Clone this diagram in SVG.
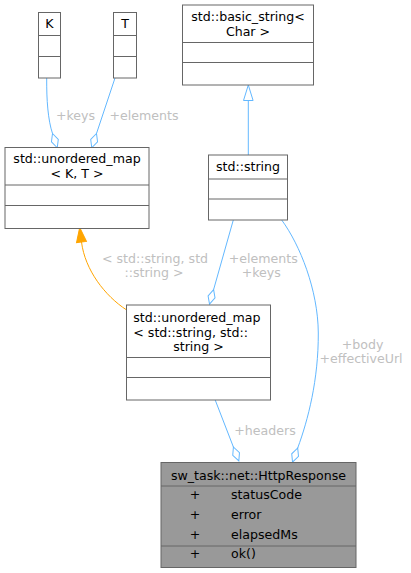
<svg xmlns="http://www.w3.org/2000/svg" width="411" height="573" viewBox="0 0 411 573">
<style>
text{font-family:"DejaVu Sans",sans-serif;font-size:12.6px;fill:#000}
.box{fill:#fff;stroke:#666;stroke-width:1}
.hl{fill:#999;stroke:#666;stroke-width:1}
.div{stroke:#666;stroke-width:1}
.e{fill:none;stroke:#63b8ff;stroke-width:1}
.o{fill:none;stroke:#ffa500;stroke-width:1}
.lbl{fill:#c0c0c0;text-anchor:middle}
.c{text-anchor:middle}
</style>
<defs>
<marker id="dia" markerUnits="userSpaceOnUse" orient="auto" overflow="visible" refX="0" refY="0" markerWidth="1" markerHeight="1">
<path d="M0,0 L7.5,-3.6 L15,0 L7.5,3.6 Z" fill="#fff" stroke="#63b8ff" stroke-width="1"/>
</marker>
<marker id="tri" markerUnits="userSpaceOnUse" orient="auto" overflow="visible" refX="0" refY="0" markerWidth="1" markerHeight="1">
<path d="M0,-4.8 L15.5,0 L0,4.8 Z" fill="#fff" stroke="#63b8ff" stroke-width="1"/>
</marker>
<marker id="otri" markerUnits="userSpaceOnUse" orient="auto" overflow="visible" refX="0" refY="0" markerWidth="1" markerHeight="1">
<path d="M0,-5 L14.5,0 L0,5 Z" fill="#ffa500" stroke="#ffa500" stroke-width="1"/>
</marker>
</defs>
<rect width="411" height="573" fill="#fff"/>
<g id="edges">
<path class="e" d="M46.7,78 C46.5,100 48,120 52.5,133.5" marker-end="url(#dia)"/>
<path class="e" d="M115,78 L96.5,133.5" marker-end="url(#dia)"/>
<path class="e" d="M248.3,155 L248.3,100.5" marker-end="url(#tri)"/>
<path class="e" d="M233.3,220 L213.6,289.6" marker-end="url(#dia)"/>
<path class="e" d="M281.7,220 C300,245 318,290 318.3,333 C318.5,380 308,420 297.7,448" marker-end="url(#dia)"/>
<path class="e" d="M215,399.5 L233.4,447" marker-end="url(#dia)"/>
<path class="o" d="M126.7,310 C105,296 85,270 81.5,242" marker-end="url(#otri)"/>
<text class="lbl" x="75.5" y="120.2">+keys</text>
<text class="lbl" x="144" y="120.2">+elements</text>
<text class="lbl" x="155" y="262.6">&lt; std::string, std</text>
<text class="lbl" x="154" y="277.3">::string &gt;</text>
<text class="lbl" x="263.3" y="262.6">+elements</text>
<text class="lbl" x="261.3" y="277.3">+keys</text>
<text class="lbl" x="362.5" y="348.6">+body</text>
<text class="lbl" x="361" y="363.3">+effectiveUrl</text>
<text class="lbl" x="265" y="434.5">+headers</text>
</g>
<g id="K">
<rect class="box" x="38.5" y="12.5" width="22" height="65.5"/>
<path class="div" d="M38.5,35.5 H60.5 M38.5,56.5 H60.5"/>
<text class="c" x="49.5" y="28.3">K</text>
</g>
<g id="T">
<rect class="box" x="113.5" y="12.5" width="23" height="65.5"/>
<path class="div" d="M113.5,35.5 H136.5 M113.5,56.5 H136.5"/>
<text class="c" x="125" y="28.3">T</text>
</g>
<g id="unordered_map_KT">
<rect class="box" x="5" y="147.5" width="144" height="81"/>
<path class="div" d="M5,185 H149 M5,205.5 H149"/>
<text class="c" x="77" y="163.3">std::unordered_map</text>
<text class="c" x="77" y="178">&lt; K, T &gt;</text>
</g>
<g id="basic_string">
<rect class="box" x="182.5" y="5" width="131" height="80"/>
<path class="div" d="M182.5,42.5 H313.5 M182.5,62.5 H313.5"/>
<text class="c" x="248" y="20.8">std::basic_string&lt;</text>
<text class="c" x="248" y="35.8">Char &gt;</text>
</g>
<g id="std_string">
<rect class="box" x="208.5" y="155" width="79" height="65"/>
<path class="div" d="M208.5,179 H287.5 M208.5,199 H287.5"/>
<text class="c" x="248" y="171.2">std::string</text>
</g>
<g id="unordered_map_ss">
<rect class="box" x="126.5" y="305" width="144" height="95"/>
<path class="div" d="M126.5,357.5 H270.5 M126.5,377.5 H270.5"/>
<text x="133.3" y="322">std::unordered_map</text>
<text x="133.3" y="336.6">&lt; std::string, std::</text>
<text class="c" x="198.5" y="351.2">string &gt;</text>
</g>
<g id="HttpResponse">
<rect class="hl" x="161" y="462.5" width="195" height="105"/>
<path class="div" d="M161,486 H356 M161,546 H356"/>
<text class="c" x="258.5" y="479.5">sw_task::net::HttpResponse</text>
<text class="c" x="195" y="498.8">+</text>
<text x="231" y="498.8">statusCode</text>
<text class="c" x="195" y="518.5">+</text>
<text x="231" y="518.5">error</text>
<text class="c" x="195" y="538.5">+</text>
<text x="231" y="538.5">elapsedMs</text>
<text class="c" x="195" y="557.8">+</text>
<text x="231" y="557.8">ok()</text>
</g>
</svg>
